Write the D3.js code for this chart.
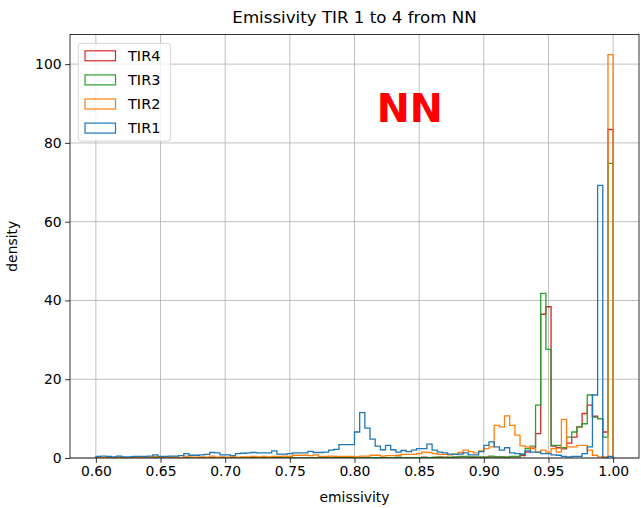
<!DOCTYPE html>
<html><head><meta charset="utf-8">
<script src="https://cdn.jsdelivr.net/npm/d3@7"></script>
<style>
body{margin:0;background:#fff}
svg{display:block}
text{font-family:"DejaVu Sans",sans-serif;fill:#000}
</style>
</head><body><div id="chart"></div>
<script>
// ---- data ----
const binStart = 0.6, binWidth = 0.004, binCount = 100;
const seriesNames = ["TIR1", "TIR2", "TIR3", "TIR4"];
const seriesColors = ["#1f77b4", "#ff7f0e", "#2ca02c", "#d62728"];
const tir1 = [
  0.4,0.5,0.4,0.3,0.5,0.3,0.3,0.4,0.4,0.4,
  0.5,0.8,0.4,0.4,0.5,0.5,0.6,1.1,0.7,0.7,
  0.8,0.9,1.4,1.3,0.8,0.8,0.6,1.1,1.2,1.3,
  1.4,1.3,1.3,1.3,1.8,1.0,1.0,1.1,1.3,1.3,
  1.3,1.7,1.4,1.4,1.5,2.0,2.2,3.4,3.4,3.4,
  6.6,11.5,7.6,4.8,3.0,2.1,3.2,2.1,1.5,1.9,
  1.6,2.0,2.4,2.4,3.5,2.0,1.5,1.3,1.0,0.9,
  1.0,1.3,0.8,0.8,1.6,3.2,4.1,2.8,2.0,2.6,
  1.3,1.1,1.0,1.8,1.5,1.5,1.1,1.1,0.8,0.7,
  0.4,0.3,0.4,0.4,1.1,2.8,16.0,69.2,0.0,0.4
];
const tir2 = [
  0.2,0.1,0.2,0.1,0.2,0.1,0.1,0.2,0.1,0.2,
  0.2,0.4,0.2,0.1,0.2,0.2,0.1,0.5,0.2,0.2,
  0.3,0.2,0.5,0.2,0.3,0.2,0.3,0.2,0.3,0.3,
  0.4,0.3,0.4,0.3,0.4,0.4,0.5,0.4,0.7,0.7,
  0.7,0.6,0.8,0.4,0.4,0.5,0.4,0.4,0.4,0.4,
  0.3,0.5,0.5,0.7,0.7,0.5,0.6,0.6,0.7,0.9,
  0.9,0.9,1.1,1.5,1.4,1.1,0.9,0.9,0.8,1.0,
  1.4,2.0,1.6,1.3,1.8,2.4,2.8,8.3,7.9,10.7,
  8.3,5.8,3.1,2.8,2.4,1.5,2.0,1.5,2.4,1.5,
  9.8,2.8,2.8,3.2,3.2,2.0,0.7,0.3,0.3,102.4
];
const tir3 = [
  0,0,0,0,0,0,0,0,0,0,
  0,0,0,0,0,0,0,0,0,0,
  0,0,0,0,0,0,0,0,0,0,
  0,0,0,0,0,0,0,0,0,0,
  0,0,0,0,0,0,0,0,0,0,
  0,0,0,0,0.1,0,0.1,0.1,0.2,0.1,
  0.1,0.1,0.1,0.1,0.1,0.2,0.2,0.1,0.2,0.2,
  0.4,0.4,0.3,0.2,0.2,0.2,0.5,0.3,0.3,0.2,
  0.4,0.4,0.9,2.4,3.0,13.4,41.8,27.6,3.2,3.2,
  2.6,5.3,6.6,7.9,8.7,16.0,10.4,10.0,5.3,74.8
];
const tir4 = [
  0,0,0,0,0,0,0,0,0,0,
  0,0,0,0,0,0,0,0,0,0,
  0,0,0,0,0,0,0,0,0,0,
  0,0,0,0,0,0,0,0,0,0,
  0,0,0,0,0,0,0,0,0,0,
  0,0,0,0,0,0.1,0,0.1,0.1,0.1,
  0.1,0.1,0.1,0.2,0.1,0.1,0.2,0.2,0.1,0.2,
  0.3,0.3,0.2,0.2,0.2,0.2,0.3,0.3,0.2,0.2,
  0.3,0.3,0.6,1.5,2.5,6.2,36.5,38.4,3.0,2.6,
  2.3,3.8,5.3,7.9,11.3,13.4,10.6,10.0,6.6,83.4
];
const xTicks = [0.60,0.65,0.70,0.75,0.80,0.85,0.90,0.95,1.00];
const yTicks = [0,20,40,60,80,100];
const titleText = "Emissivity TIR 1 to 4 from NN";
const xLabel = "emissivity", yLabel = "density";
const noteText = "NN";

// ---- layout ----
const W = 641, H = 508;
const m = {left:70, right:639, top:34.5, bottom:458};
const x = d3.scaleLinear().domain([0.58, 1.02]).range([m.left, m.right]);
const y = d3.scaleLinear().domain([0, 107.52]).range([m.bottom, m.top]);
const edges = d3.range(binCount + 1).map(i => binStart + i * binWidth);
const seriesValues = [tir1, tir2, tir3, tir4];

const svg = d3.select("#chart").append("svg").attr("width", W).attr("height", H);
svg.append("rect").attr("width", W).attr("height", H).attr("fill", "#fff");

// grid
const g = svg.append("g");
g.selectAll(".gx").data(xTicks).join("line")
  .attr("x1", d => x(d)).attr("x2", d => x(d)).attr("y1", m.top).attr("y2", m.bottom)
  .attr("stroke", "#b0b0b0").attr("stroke-width", 0.8);
g.selectAll(".gy").data(yTicks).join("line")
  .attr("y1", d => y(d)).attr("y2", d => y(d)).attr("x1", m.left).attr("x2", m.right)
  .attr("stroke", "#b0b0b0").attr("stroke-width", 0.8);

// clip
svg.append("clipPath").attr("id", "clip").append("rect")
  .attr("x", m.left).attr("y", m.top).attr("width", m.right - m.left).attr("height", m.bottom - m.top);

// step histograms: draw TIR4 first so TIR1 on top
const order = [3, 2, 1, 0];
const plot = svg.append("g").attr("clip-path", "url(#clip)");
order.forEach(si => {
  const vals = seriesValues[si];
  const pts = [[edges[0], 0]];
  vals.forEach((v, i) => { pts.push([edges[i], v]); pts.push([edges[i + 1], v]); });
  pts.push([edges[binCount], 0]);
  const line = d3.line().x(d => x(d[0])).y(d => y(d[1]));
  plot.append("path").attr("d", line(pts)).attr("fill", "none")
    .attr("stroke", seriesColors[si]).attr("stroke-width", 1.3).attr("stroke-linejoin", "miter");
});

// note text
svg.append("text").attr("x", x(0.8172)).attr("y", y(85.3)).text(noteText)
  .attr("font-size", 39.5).attr("font-weight", "bold").style("fill", "#ff0000");

// frame
svg.append("rect").attr("x", m.left).attr("y", m.top).attr("width", m.right - m.left).attr("height", m.bottom - m.top)
  .attr("fill", "none").attr("stroke", "#000").attr("stroke-width", 0.8);

// axes
const xAxis = d3.axisBottom(x).tickValues(xTicks).tickFormat(d3.format(".2f")).tickSize(4.9).tickPadding(3.5).tickSizeOuter(0);
const ax = svg.append("g").attr("transform", `translate(0,${m.bottom})`).call(xAxis);
const yAxis = d3.axisLeft(y).tickValues(yTicks).tickFormat(d3.format("d")).tickSize(4.9).tickPadding(3.5).tickSizeOuter(0);
const ay = svg.append("g").attr("transform", `translate(${m.left},0)`).call(yAxis);
[ax, ay].forEach(a => {
  a.select(".domain").remove();
  a.selectAll(".tick line").attr("stroke", "#000").attr("stroke-width", 0.8);
  a.selectAll(".tick text").attr("font-size", 13.9).attr("font-family", "DejaVu Sans").style("fill", "#000");
});

// labels
svg.append("text").attr("x", (m.left + m.right) / 2).attr("y", 23).attr("text-anchor", "middle")
  .attr("font-size", 16.67).text(titleText);
svg.append("text").attr("x", (m.left + m.right) / 2).attr("y", 502).attr("text-anchor", "middle")
  .attr("font-size", 13.9).text(xLabel);
svg.append("text").attr("transform", `translate(17,${(m.top + m.bottom) / 2}) rotate(-90)`).attr("text-anchor", "middle")
  .attr("font-size", 13.9).text(yLabel);

// legend
const lg = svg.append("g");
lg.append("rect").attr("x", 78.3).attr("y", 43.3).attr("width", 92.4).attr("height", 97.7).attr("rx", 2.8)
  .attr("fill", "#fff").attr("fill-opacity", 0.8).attr("stroke", "#cccccc").attr("stroke-width", 0.8);
const legOrder = [3, 2, 1, 0];
legOrder.forEach((si, k) => {
  const cy = 55.8 + k * 24.1;
  lg.append("rect").attr("x", 85).attr("y", cy - 5).attr("width", 30.5).attr("height", 10)
    .attr("fill", "none").attr("stroke", seriesColors[si]).attr("stroke-width", 1.2);
  lg.append("text").attr("x", 128).attr("y", cy + 5).attr("font-size", 14.5).text(seriesNames[si]);
});
</script>
</body></html>
